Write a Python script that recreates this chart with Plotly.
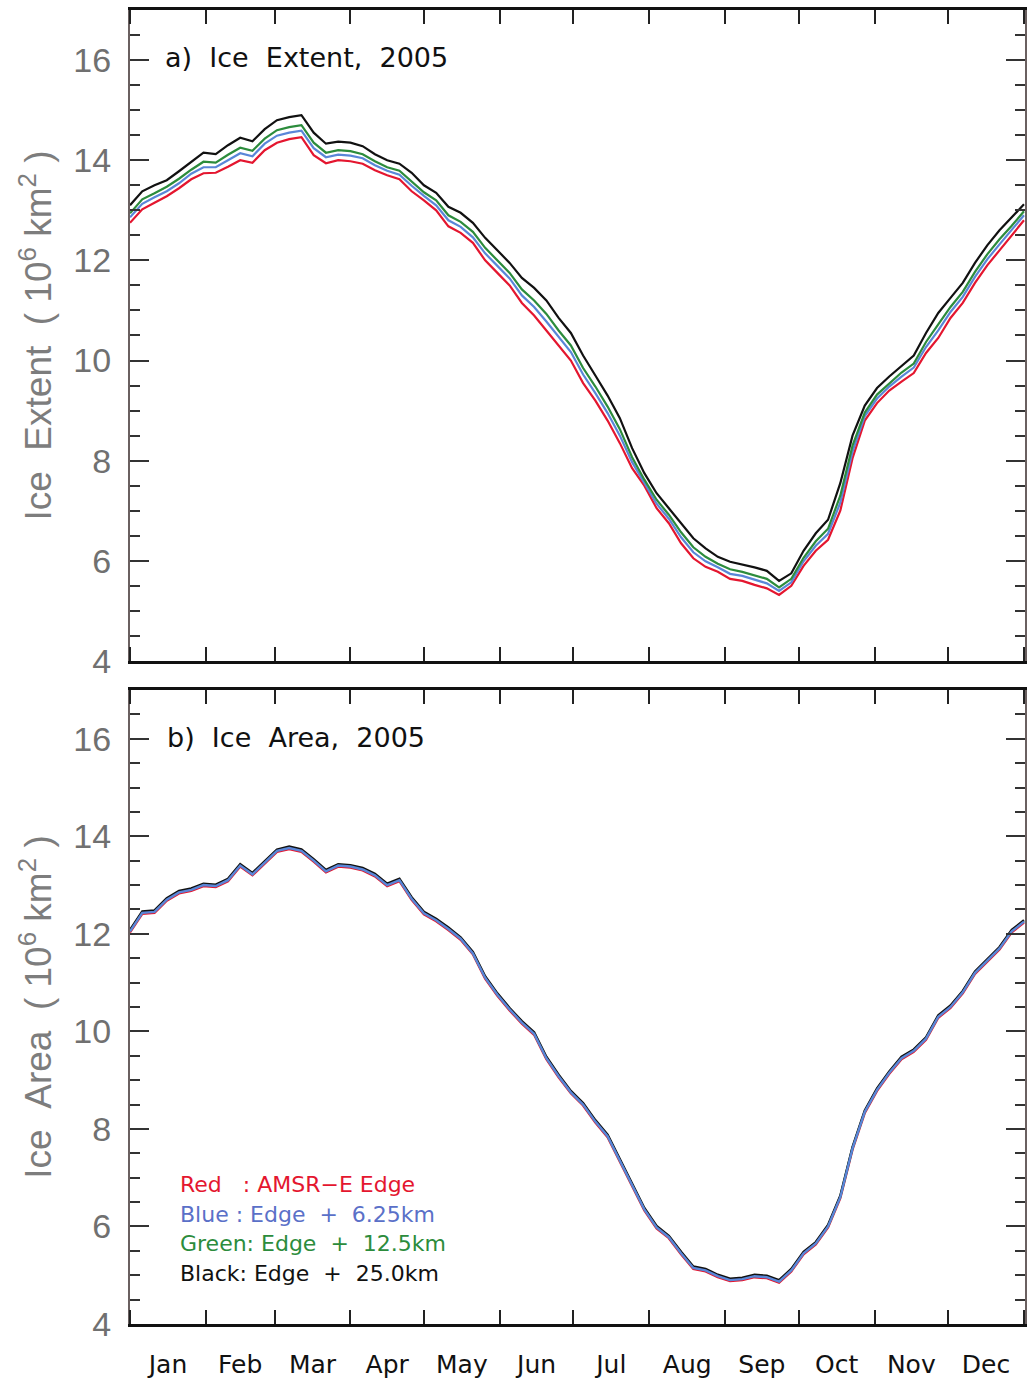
import pandas as pd
import plotly.graph_objects as go

# day of year (0 = Jan 1, 2005)
days = [0, 5, 10, 15, 20, 25, 30, 35, 40, 45, 50, 55, 60, 65, 70, 75, 80, 85, 90, 95,
        100, 105, 110, 115, 120, 125, 130, 135, 140, 145, 150, 155, 160, 165, 170, 175,
        180, 185, 190, 195, 200, 205, 210, 215, 220, 225, 230, 235, 240, 245, 250, 255,
        260, 265, 270, 275, 280, 285, 290, 295, 300, 305, 310, 315, 320, 325, 330, 335,
        340, 345, 350, 355, 360, 365]

# a) Ice extent (10^6 km^2)
ext_red = [12.75, 13.02, 13.15, 13.28, 13.44, 13.62, 13.74, 13.75, 13.87, 14.00, 13.95, 14.20,
           14.35, 14.42, 14.46, 14.10, 13.94, 14.00, 13.98, 13.93, 13.80, 13.70, 13.62, 13.38,
           13.20, 13.00, 12.68, 12.55, 12.35, 12.00, 11.75, 11.50, 11.15, 10.90, 10.60, 10.30,
           10.00, 9.55, 9.20, 8.80, 8.35, 7.85, 7.50, 7.05, 6.75, 6.35, 6.05, 5.88, 5.78, 5.64,
           5.60, 5.52, 5.45, 5.32, 5.50, 5.90, 6.20, 6.42, 7.00, 8.05, 8.80, 9.15, 9.40, 9.58,
           9.75, 10.15, 10.45, 10.85, 11.15, 11.55, 11.90, 12.20, 12.50, 12.80]
ext_blue = [12.86, 13.13, 13.26, 13.38, 13.54, 13.73, 13.86, 13.86, 14.00, 14.14, 14.08, 14.33,
            14.49, 14.55, 14.59, 14.24, 14.06, 14.11, 14.09, 14.04, 13.90, 13.79, 13.71, 13.49,
            13.29, 13.10, 12.80, 12.67, 12.46, 12.14, 11.89, 11.64, 11.30, 11.07, 10.78, 10.47,
            10.17, 9.72, 9.35, 8.95, 8.50, 7.97, 7.56, 7.14, 6.84, 6.47, 6.17, 5.99, 5.87, 5.74,
            5.70, 5.62, 5.55, 5.40, 5.57, 5.99, 6.30, 6.54, 7.16, 8.18, 8.89, 9.24, 9.48, 9.68,
            9.86, 10.27, 10.60, 10.97, 11.27, 11.67, 12.02, 12.32, 12.60, 12.90]
ext_green = [12.94, 13.22, 13.34, 13.47, 13.63, 13.81, 13.97, 13.95, 14.11, 14.25, 14.19, 14.43,
             14.60, 14.66, 14.70, 14.35, 14.15, 14.20, 14.18, 14.12, 13.98, 13.86, 13.79, 13.58,
             13.36, 13.20, 12.90, 12.77, 12.57, 12.25, 12.00, 11.75, 11.42, 11.20, 10.93, 10.60,
             10.30, 9.85, 9.48, 9.08, 8.63, 8.07, 7.62, 7.22, 6.92, 6.57, 6.27, 6.08, 5.94, 5.83,
             5.78, 5.71, 5.64, 5.47, 5.64, 6.06, 6.39, 6.64, 7.30, 8.30, 8.96, 9.32, 9.55, 9.76,
             9.94, 10.37, 10.72, 11.07, 11.37, 11.77, 12.12, 12.42, 12.69, 12.98]
ext_black = [13.10, 13.38, 13.50, 13.60, 13.78, 13.97, 14.15, 14.12, 14.30, 14.45, 14.38, 14.62,
             14.80, 14.86, 14.90, 14.55, 14.33, 14.37, 14.35, 14.28, 14.12, 14.00, 13.93, 13.75,
             13.50, 13.35, 13.07, 12.95, 12.75, 12.45, 12.20, 11.95, 11.65, 11.45, 11.20, 10.85,
             10.55, 10.10, 9.70, 9.30, 8.85, 8.25, 7.75, 7.35, 7.05, 6.75, 6.45, 6.25, 6.08, 5.98,
             5.93, 5.87, 5.80, 5.60, 5.75, 6.20, 6.55, 6.82, 7.55, 8.50, 9.10, 9.45, 9.68, 9.90,
             10.10, 10.55, 10.95, 11.25, 11.55, 11.95, 12.30, 12.60, 12.85, 13.12]

# b) Ice area (10^6 km^2)
area_red = [12.03, 12.41, 12.43, 12.68, 12.83, 12.88, 12.98, 12.96, 13.08, 13.38, 13.20, 13.43,
            13.68, 13.74, 13.68, 13.48, 13.26, 13.38, 13.36, 13.30, 13.18, 12.98, 13.08, 12.70,
            12.40, 12.26, 12.08, 11.88, 11.58, 11.08, 10.73, 10.43, 10.16, 9.93, 9.43, 9.06,
            8.73, 8.48, 8.13, 7.83, 7.33, 6.83, 6.33, 5.96, 5.76, 5.43, 5.13, 5.08, 4.96, 4.88,
            4.90, 4.96, 4.94, 4.85, 5.08, 5.43, 5.63, 5.98, 6.58, 7.58, 8.33, 8.78, 9.13, 9.43,
            9.58, 9.83, 10.28, 10.48, 10.78, 11.18, 11.43, 11.68, 12.03, 12.23]
area_blue = [12.05, 12.43, 12.45, 12.70, 12.85, 12.90, 13.00, 12.98, 13.10, 13.40, 13.22, 13.45,
             13.70, 13.76, 13.70, 13.50, 13.28, 13.40, 13.38, 13.32, 13.20, 13.00, 13.10, 12.72,
             12.42, 12.28, 12.10, 11.90, 11.60, 11.10, 10.75, 10.45, 10.18, 9.95, 9.45, 9.08,
             8.75, 8.50, 8.15, 7.85, 7.35, 6.85, 6.35, 5.98, 5.78, 5.45, 5.15, 5.10, 4.98, 4.90,
             4.92, 4.98, 4.96, 4.87, 5.10, 5.45, 5.65, 6.00, 6.60, 7.60, 8.35, 8.80, 9.15, 9.45,
             9.60, 9.85, 10.30, 10.50, 10.80, 11.20, 11.45, 11.70, 12.05, 12.25]
area_green = [12.06, 12.44, 12.46, 12.71, 12.86, 12.91, 13.01, 12.99, 13.11, 13.41, 13.23, 13.46,
              13.71, 13.77, 13.71, 13.51, 13.29, 13.41, 13.39, 13.33, 13.21, 13.01, 13.11, 12.73,
              12.43, 12.29, 12.11, 11.91, 11.61, 11.11, 10.76, 10.46, 10.19, 9.96, 9.46, 9.09,
              8.76, 8.51, 8.16, 7.86, 7.36, 6.86, 6.36, 5.99, 5.79, 5.46, 5.16, 5.11, 4.99, 4.91,
              4.93, 4.99, 4.97, 4.88, 5.11, 5.46, 5.66, 6.01, 6.61, 7.61, 8.36, 8.81, 9.16, 9.46,
              9.61, 9.86, 10.31, 10.51, 10.81, 11.21, 11.46, 11.71, 12.06, 12.26]
area_black = [12.08, 12.46, 12.48, 12.73, 12.88, 12.93, 13.03, 13.01, 13.13, 13.43, 13.25, 13.48,
              13.73, 13.79, 13.73, 13.53, 13.31, 13.43, 13.41, 13.35, 13.23, 13.03, 13.13, 12.75,
              12.45, 12.31, 12.13, 11.93, 11.63, 11.13, 10.78, 10.48, 10.21, 9.98, 9.48, 9.11,
              8.78, 8.53, 8.18, 7.88, 7.38, 6.88, 6.38, 6.01, 5.81, 5.48, 5.18, 5.13, 5.01, 4.93,
              4.95, 5.01, 4.99, 4.90, 5.13, 5.48, 5.68, 6.03, 6.63, 7.63, 8.38, 8.83, 9.18, 9.48,
              9.63, 9.88, 10.33, 10.53, 10.83, 11.23, 11.48, 11.73, 12.08, 12.28]

NB = "\u00a0"
series_names = ["AMSR-E Edge", "Edge + 6.25km", "Edge + 12.5km", "Edge + 25.0km"]
legend_lines = ["Red" + NB * 3 + ":" + NB + "AMSR\u2212E" + NB + "Edge",
                "Blue" + NB + ":" + NB + "Edge" + NB * 2 + "+" + NB * 2 + "6.25km",
                "Green:" + NB + "Edge" + NB * 2 + "+" + NB * 2 + "12.5km",
                "Black:" + NB + "Edge" + NB * 2 + "+" + NB * 2 + "25.0km"]
colors = ["#e4162f", "#5a86d8", "#2c8c3c", "#111111"]
panel_titles = ["a)" + NB * 2 + "Ice" + NB * 2 + "Extent," + NB * 2 + "2005",
                "b)" + NB * 2 + "Ice" + NB * 2 + "Area," + NB * 2 + "2005"]
y_titles = ["Ice" + NB * 2 + "Extent" + NB * 2 + "(" + NB + "10<sup>6</sup>" + NB + "km<sup>2</sup>" + NB + ")",
            "Ice" + NB * 2 + "Area" + NB * 2 + "(" + NB + "10<sup>6</sup>" + NB + "km<sup>2</sup>" + NB + ")"]

dates = pd.Timestamp("2005-01-01") + pd.to_timedelta(days, unit="D")

fig = go.Figure()

top = [ext_red, ext_blue, ext_green, ext_black]
for vals, c, n in zip(top, colors, series_names):
    fig.add_trace(go.Scatter(x=dates, y=vals, mode="lines", name=n,
                             line=dict(color=c, width=2.2),
                             xaxis="x", yaxis="y", showlegend=False))

bottom = [area_red, area_green, area_black, area_blue]
bcols = [colors[0], colors[2], colors[3], colors[1]]
bnames = [series_names[0], series_names[2], series_names[3], series_names[1]]
for vals, c, n in zip(bottom, bcols, bnames):
    fig.add_trace(go.Scatter(x=dates, y=vals, mode="lines", name=n,
                             line=dict(color=c, width=2.4),
                             xaxis="x2", yaxis="y2", showlegend=False))

FONT = "Liberation Sans, Arial, sans-serif"
WIDE = "DejaVu Sans, Verdana, sans-serif"
xr = ["2005-01-01", "2006-01-01 10:00"]

xcommon = dict(type="date", range=xr, dtick="M1", tick0="2005-01-01",
               ticklabelmode="period", tickformat="%b",
               ticks="inside", ticklen=14, tickwidth=2, tickcolor="#222",
               showline=True, linecolor="#111", linewidth=2.5, mirror="ticks",
               showgrid=False, zeroline=False,
               tickfont=dict(family=WIDE, size=25, color="#111"))

ycommon = dict(range=[4, 17], tickvals=[4, 6, 8, 10, 12, 14, 16],
               ticks="inside", ticklen=19, tickwidth=2, tickcolor="#333",
               minor=dict(dtick=0.5, tick0=0, ticks="inside", ticklen=10,
                          tickwidth=2, tickcolor="#333"),
               showline=True, linecolor="#6a6060", linewidth=2, mirror="ticks",
               showgrid=False, zeroline=False, ticklabelstandoff=10,
               tickfont=dict(family=FONT, size=34, color="#707070"))

fig.update_layout(
    width=1027, height=1381, autosize=False,
    margin=dict(l=130, r=0, t=10, b=57),
    paper_bgcolor="white", plot_bgcolor="white",
    xaxis=dict(xcommon, anchor="y", domain=[0, 1], showticklabels=False),
    yaxis=dict(ycommon, anchor="x", domain=[0.5046, 1.0],
               title=dict(text=y_titles[0], standoff=10,
                          font=dict(family=FONT, size=37, color="#7d7d7d"))),
    xaxis2=dict(xcommon, anchor="y2", domain=[0, 1], ticklabelstandoff=16),
    yaxis2=dict(ycommon, anchor="x2", domain=[0.0, 0.4825],
                title=dict(text=y_titles[1], standoff=10,
                           font=dict(family=FONT, size=37, color="#7d7d7d"))),
)

fig.add_annotation(x=0.037, y=0.9642, xref="paper", yref="paper", text=panel_titles[0],
                   showarrow=False, xanchor="left", yanchor="middle",
                   font=dict(family=WIDE, size=27, color="#111"))
fig.add_annotation(x=0.039, y=0.4467, xref="paper", yref="paper", text=panel_titles[1],
                   showarrow=False, xanchor="left", yanchor="middle",
                   font=dict(family=WIDE, size=27, color="#111"))

leg_y = [0.1058, 0.0830, 0.0609, 0.0388]
leg_colors = ["#e4162f", "#5a70c8", "#2c8c3c", "#111111"]
for txt, yy, c in zip(legend_lines, leg_y, leg_colors):
    fig.add_annotation(x=0.0536, y=yy, xref="paper", yref="paper", text=txt,
                       showarrow=False, xanchor="left", yanchor="middle",
                       font=dict(family=WIDE, size=22, color=c))

fig.write_html("out.html")
